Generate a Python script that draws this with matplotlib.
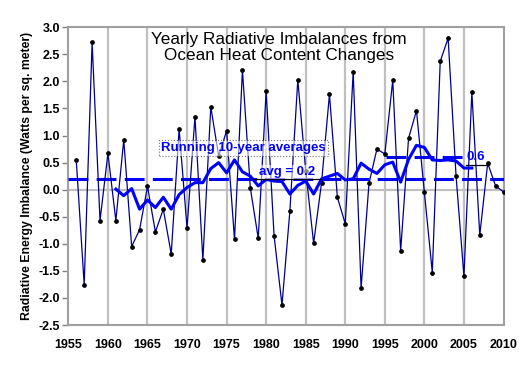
import numpy as np
import matplotlib
matplotlib.use("Agg")
import matplotlib.pyplot as plt

plt.rcParams['font.family'] = ['Liberation Sans', 'DejaVu Sans']

# yearly imbalance (W/m2)
years = list(range(1956, 2011))
imbalance = [0.54, -1.76, 2.72, -0.57, 0.67, -0.57, 0.92, -1.05, -0.74, 0.06,
             -0.78, -0.36, -1.19, 1.12, -0.71, 1.35, -1.30, 1.53, 0.62, 1.09,
             -0.92, 2.21, 0.03, -0.90, 1.82, -0.85, -2.13, -0.39, 2.03, 0.35,
             -0.99, 0.13, 1.76, -0.14, -0.63, 2.18, -1.82, 0.12, 0.75, 0.66,
             2.02, -1.13, 0.95, 1.46, -0.05, -1.53, 2.37, 2.80, 0.26, -1.60,
             1.80, -0.84, 0.49, 0.07, -0.04]

# running 10-year averages
avg_years = list(range(1961, 2007))
running_avg = [0.01, -0.11, 0.02, -0.36, -0.19, -0.33, -0.14, -0.36, -0.09, 0.04,
               0.13, 0.13, 0.39, 0.50, 0.31, 0.55, 0.33, 0.25, 0.07, 0.19,
               0.16, 0.15, -0.08, 0.08, 0.16, -0.08, 0.20, 0.25, 0.30, 0.18,
               0.20, 0.49, 0.38, 0.30, 0.46, 0.51, 0.14, 0.56, 0.82, 0.78,
               0.55, 0.54, 0.55, 0.53, 0.40, 0.40]

overall_avg = 0.19
recent_avg = 0.61
recent_span = [1995.2, 2005.3]

navy = '#000090'
blue = '#0000FF'
grid = '#C0C0C0'

fig = plt.figure(figsize=(5.28, 3.84), dpi=100)
ax = fig.add_axes([0.1295, 0.1536, 0.8241, 0.7753])

for yr in range(1960, 2010, 5):
    ax.axvline(yr, color=grid, lw=1.6, zorder=0)
ax.axhline(0, color=grid, lw=1.6, zorder=0)

ax.plot([1955, 2010], [overall_avg, overall_avg], color=blue, lw=2.2,
        dashes=(6.5, 2.7), zorder=3)
ax.plot(recent_span, [recent_avg, recent_avg], color=blue, lw=2.2,
        dashes=(6.5, 2.7), zorder=3)

ax.plot(years, imbalance, color=navy, lw=0.9, marker='o', ms=2.4,
        mfc='black', mec='black', zorder=4)
ax.plot(avg_years, running_avg, color=blue, lw=2.2, zorder=5)

# annotation leader lines
ax.plot([1978.3, 1986.9], [0.19, 0.19], color='black', lw=0.9, zorder=6)
ax.plot([2005.3, 2008.2], [0.45, 0.45], color='black', lw=0.9, zorder=6)

ax.text(1977.1, 0.77, 'Running 10-year averages', color=blue, fontsize=9.5,
        fontweight='bold', ha='center', va='center', zorder=7,
        bbox=dict(boxstyle='square,pad=0.15', fc='white', alpha=0.55,
                  ec='black', ls=':', lw=0.8))
ax.text(1982.7, 0.33, 'avg = 0.2', color=blue, fontsize=9.5,
        fontweight='bold', ha='center', va='center', zorder=7,
        bbox=dict(boxstyle='square,pad=0.1', fc='white', alpha=0.55,
                  ec='none'))
ax.text(2006.5, 0.61, '0.6', color=blue, fontsize=9.5,
        fontweight='bold', ha='center', va='center', zorder=7)

ax.text(0.484, 0.985, 'Yearly Radiative Imbalances from\nOcean Heat Content Changes',
        transform=ax.transAxes, ha='center', va='top', fontsize=12.3,
        linespacing=1.1, zorder=8)

ax.set_xlim(1955, 2010)
ax.set_ylim(-2.5, 3.0)
ax.set_xticks(range(1955, 2011, 5))
ax.set_yticks(np.arange(-2.5, 3.01, 0.5))
ax.set_yticklabels(['%.1f' % v for v in np.arange(-2.5, 3.01, 0.5)])
ax.tick_params(axis='x', length=0, pad=10, labelsize=9)
ax.tick_params(axis='y', length=4, color='#808080', width=1, pad=2, labelsize=9)
for lab in ax.get_xticklabels() + ax.get_yticklabels():
    lab.set_fontweight('bold')
for s in ax.spines.values():
    s.set_color('#A0A0A0')
    s.set_linewidth(1.5)

ax.set_ylabel('Radiative Energy Imbalance (Watts per sq. meter)',
              fontsize=8.8, fontweight='bold', labelpad=4)

fig.savefig('out.png', dpi=100)
